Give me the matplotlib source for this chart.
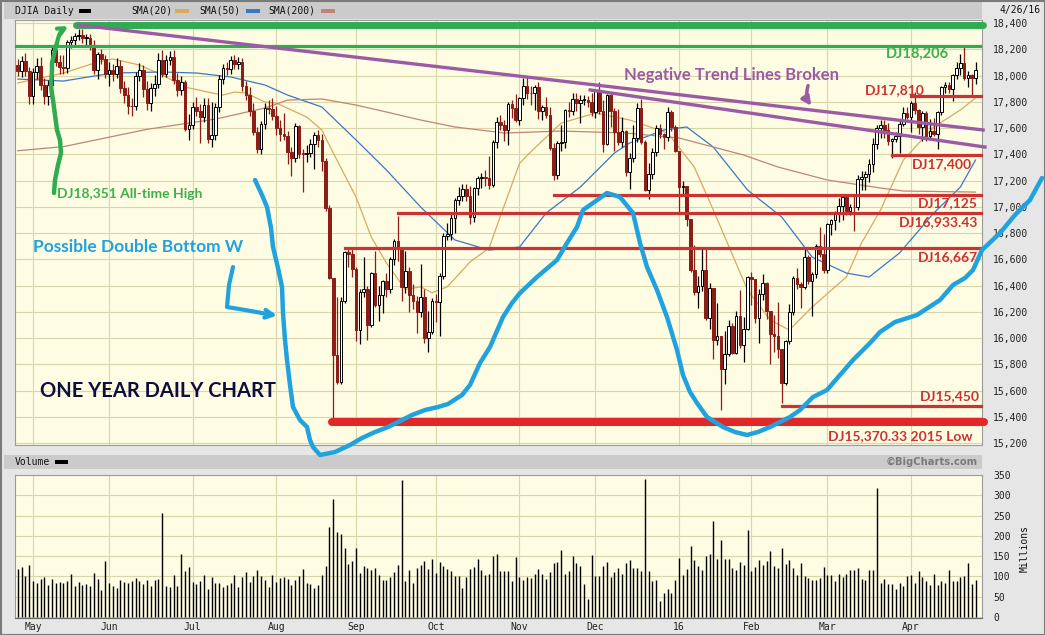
# -*- coding: utf-8 -*-
import numpy as np
import pandas as pd
import matplotlib
matplotlib.use('Agg')
import matplotlib.pyplot as plt
from matplotlib.patches import Rectangle

# ---------------- data ----------------
holidays = ['2015-05-25', '2015-07-03', '2015-09-07', '2015-11-26', '2015-12-25',
            '2016-01-01', '2016-01-18', '2016-02-15', '2016-03-25']
days = pd.bdate_range('2015-04-27', '2016-04-26')
days = days[~days.isin(pd.to_datetime(holidays))]

first_open = 18080
closes = [
    18037, 18110, 18035, 17841,
    18024, 18070, 17928, 17842, 17925, 18191, 18105, 18068, 18060, 18252, 18272, 18298, 18312, 18285, 18285, 18232, 18041, 18163, 18127, 18011,
    18040, 18011, 18076, 17906, 17849, 17767, 17765, 18000, 18039, 17899, 17791, 17904, 17935, 18115, 18015, 18120, 18144, 17967, 17891, 17947, 17596, 17620,
    17758, 17731, 17684, 17776, 17516, 17549, 17760, 17977, 18054, 18051, 18120, 18086, 18100, 17919, 17851, 17732, 17569, 17441, 17631, 17751, 17746, 17690,
    17599, 17551, 17541, 17419, 17373, 17615, 17403, 17402, 17409, 17477, 17546, 17512, 17349, 16991, 16460, 15871, 15666, 16285, 16655, 16643, 16528,
    16058, 16351, 16374, 16102, 16492, 16253, 16330, 16433, 16371, 16599, 16740, 16675, 16385, 16511, 16330, 16280, 16201, 16315, 16001, 16049, 16285,
    16272, 16472, 16777, 16790, 16912, 17050, 17084, 17132, 17082, 16925, 17142, 17216, 17230, 17218, 17169, 17490, 17647, 17623, 17582, 17780, 17756, 17664,
    17829, 17919, 17868, 17864, 17910, 17730, 17758, 17703, 17449, 17245, 17484, 17490, 17738, 17733, 17824, 17792, 17813, 17813, 17798, 17720,
    17888, 17730, 17478, 17848, 17731, 17568, 17493, 17575, 17265, 17368, 17525, 17750, 17495, 17128, 17252, 17418, 17603, 17553, 17528, 17721, 17604, 17425,
    17149, 17159, 16907, 16515, 16347, 16399, 16516, 16151, 16380, 15988, 16016, 15766, 15882, 16094, 15886, 16167, 15944, 16069, 16466,
    16449, 16154, 16337, 16417, 16205, 16027, 16014, 15915, 15660, 15974, 16196, 16454, 16414, 16392, 16620, 16431, 16485, 16698, 16640, 16517,
    16866, 16900, 16944, 17007, 17074, 16965, 17001, 16995, 17214, 17230, 17251, 17326, 17481, 17602, 17624, 17582, 17503, 17516, 17536, 17634, 17717, 17685,
    17793, 17737, 17604, 17716, 17542, 17577, 17557, 17722, 17909, 17927, 17898, 18004, 18054, 18096, 17983, 18004, 17978, 18041,
]
# wick length above / below the candle body, points
wick_up = [
    45, 35, 60, 30,
    30, 60, 70, 50, 40, 30, 60, 50, 90, 20, 30, 25, 39, 45, 30, 30, 40, 20, 40, 30,
    60, 50, 60, 40, 50, 60, 60, 30, 60, 40, 60, 40, 70, 60, 80, 40, 40, 50, 50, 50, 20, 90,
    40, 80, 50, 50, 50, 250, 30, 30, 30, 50, 30, 40, 40, 30, 40, 60, 60, 40, 20, 40, 60, 80,
    80, 60, 160, 40, 40, 20, 10, 40, 60, 40, 20, 40, 40, 20, 20, 0, 441, 27, 11, 40, 40,
    10, 20, 240, 20, 10, 172, 70, 10, 60, 20, 15, 193, 20, 150, 30, 80, 40, 250, 60, 160, 20,
    50, 20, 20, 90, 40, 20, 70, 40, 40, 80, 10, 20, 30, 50, 170, 20, 40, 50, 40, 20, 30, 100,
    10, 60, 70, 50, 20, 40, 20, 80, 60, 40, 20, 130, 10, 60, 40, 40, 40, 40, 30, 70,
    10, 60, 80, 10, 20, 20, 180, 110, 10, 40, 100, 40, 70, 10, 80, 30, 20, 30, 10, 40, 20, 20,
    0, 40, 0, 0, 190, 70, 170, 170, 40, 0, 250, 0, 170, 40, 20, 40, 200, 90, 10,
    40, 0, 40, 70, 10, 0, 150, 260, 0, 10, 60, 20, 80, 10, 60, 10, 20, 20, 150, 150,
    10, 10, 20, 60, 20, 20, 20, 100, 30, 40, 20, 40, 40, 20, 40, 40, 60, 10, 30, 20, 40, 40,
    10, 80, 10, 10, 10, 90, 100, 10, 10, 20, 20, 10, 50, 71, 120, 30, 10, 60,
]
wick_down = [
    40, 50, 40, 55,
    60, 50, 40, 60, 70, 40, 30, 60, 50, 40, 40, 50, 30, 40, 50, 40, 30, 70, 40, 30,
    90, 50, 30, 40, 60, 60, 70, 30, 40, 60, 50, 60, 60, 30, 30, 30, 40, 30, 50, 40, 20, 90,
    30, 40, 200, 40, 30, 60, 40, 40, 40, 50, 40, 40, 40, 40, 40, 40, 20, 30, 40, 40, 40, 30,
    50, 50, 30, 90, 140, 30, 30, 287, 60, 30, 190, 60, 80, 20, 10, 501, 15, 15, 15, 100, 60,
    78, 100, 40, 120, 20, 20, 120, 140, 60, 30, 40, 90, 100, 40, 130, 60, 160, 40, 40, 107, 20,
    150, 259, 20, 30, 40, 110, 40, 40, 40, 60, 40, 50, 70, 60, 30, 20, 40, 40, 80, 110, 80, 20,
    40, 50, 50, 90, 130, 60, 70, 30, 20, 40, 35, 60, 40, 50, 30, 60, 150, 40, 40, 30,
    40, 20, 60, 10, 120, 140, 20, 40, 30, 126, 30, 30, 20, 10, 70, 40, 30, 30, 90, 30, 30, 10,
    190, 60, 50, 10, 20, 120, 40, 10, 80, 146, 40, 315, 120, 20, 10, 10, 20, 130, 10,
    200, 40, 194, 50, 60, 224, 120, 70, 157, 20, 20, 20, 40, 160, 20, 20, 266, 30, 20, 20,
    20, 80, 80, 60, 110, 30, 30, 180, 20, 90, 100, 60, 60, 40, 80, 60, 30, 130, 20, 130, 20, 20,
    118, 30, 50, 100, 40, 20, 20, 120, 20, 40, 30, 90, 30, 50, 20, 70, 136, 40,
]
volume = [
    118, 123, 101, 128, 89, 83, 93, 99, 79, 93, 85, 86, 85, 90, 106, 76, 87, 79, 81, 76,
    108, 94, 67, 138, 84, 76, 71, 91, 87, 85, 90, 96, 89, 81, 91, 76, 91, 94, 256, 76,
    74, 104, 76, 155, 113, 123, 86, 81, 89, 104, 69, 99, 84, 84, 74, 79, 84, 104, 74, 99,
    111, 86, 101, 116, 101, 91, 74, 104, 86, 96, 99, 94, 79, 91, 101, 118, 85, 81, 71, 79,
    104, 126, 222, 291, 210, 205, 170, 131, 138, 170, 108, 126, 121, 116, 121, 104, 91, 91, 99, 110,
    128, 338, 89, 116, 84, 121, 128, 138, 118, 143, 108, 136, 126, 118, 113, 101, 101, 71, 99, 118,
    123, 143, 116, 104, 106, 150, 155, 113, 113, 113, 89, 148,
    99, 91, 99, 96, 106, 118, 106, 94, 111, 133, 136, 165, 106, 113, 150, 133, 126, 81, 44, 153,
    101, 101, 126, 136, 99, 111, 121, 106, 133, 140, 121, 121, 113, 340, 113, 89, 91, 39, 59, 69, 59, 91,
    145, 104, 118, 175, 140, 126, 116, 150, 155, 237, 143, 190, 143, 143, 121, 116, 136, 128, 214,
    113, 123, 140, 128, 138, 162, 126, 121, 170, 131, 140, 121, 104, 133, 101, 96, 91, 91, 96, 123,
    104, 104, 89, 106, 99, 106, 116, 116, 121, 94, 91, 116, 116, 318, 84, 94, 81, 81, 69, 84, 76, 101,
    104, 84, 113, 99, 89, 79, 106, 79, 89, 84, 116, 89, 89, 99, 101, 133, 81, 91,
]

# moving averages (trading-day number, value)
sma20_day = [0, 12, 21, 25, 32, 38, 44, 50, 54, 57, 60, 65, 68, 76, 80, 83, 89, 93, 97, 102, 106, 109, 113, 119, 124,
             127, 132, 135, 143, 152, 161, 171, 178, 183, 192, 198, 203, 209, 218, 222, 227, 233, 241, 248, 252]
sma20_val = [17943, 18019, 18103, 18126, 18080, 18004, 17912, 17874, 17851, 17874, 17867, 17798, 17790, 17684, 17585,
             17410, 17074, 16770, 16571, 16370, 16390, 16345, 16390, 16580, 16685, 16930, 17330, 17420, 17638, 17714,
             17661, 17562, 17303, 16975, 16366, 16137, 16061, 16236, 16465, 16724, 16975, 17356, 17608, 17737, 17829]
sma50_day = [0, 12, 25, 38, 47, 56, 65, 71, 80, 89, 97, 106, 115, 124, 132, 139, 148, 157, 161, 170, 176, 183, 192,
             201, 209, 218, 224, 232, 241, 248, 252]
sma50_val = [17973, 17958, 18019, 18027, 18019, 17989, 17928, 17851, 17760, 17509, 17280, 16998, 16747, 16670, 16693,
             16952, 17150, 17410, 17486, 17585, 17608, 17455, 17128, 16922, 16617, 16495, 16465, 16648, 16952, 17150, 17356]
sma200_day = [0, 12, 34, 52, 60, 65, 71, 80, 89, 97, 106, 115, 128, 143, 160, 174, 183, 191, 200, 213, 227, 233, 252]
sma200_val = [17427, 17458, 17590, 17668, 17720, 17752, 17813, 17821, 17775, 17722, 17661, 17608, 17562, 17577, 17562,
              17524, 17455, 17394, 17303, 17204, 17143, 17120, 17112]

month_names = ['May', 'Jun', 'Jul', 'Aug', 'Sep', 'Oct', 'Nov', 'Dec', '16', 'Feb', 'Mar', 'Apr']

# support / resistance levels drawn on the chart
level_text = ['DJ17,810', 'DJ17,400', 'DJ17,125', 'DJ16,933.43', 'DJ16,667', 'DJ15,450']
level_value = [17844, 17394, 17090, 16952, 16686, 15482]
level_from = ['2016-04-01', '2016-03-24', '2015-11-13', '2015-09-17', '2015-08-27', '2016-02-11']
low_2015 = 15360
high_line = 18385
green_line = 18225

W, H = 1045, 635
RED = '#cd3232'
DOWN = '#8c1c16'
GREEN = '#2fab50'
PURPLE = '#9a5ba4'
BLUE = '#20a2df'
GRID = '#d9d6ab'
MONO = 'DejaVu Sans Mono'
HAND = 'Lato'


def day(s):
    return days.get_loc(pd.Timestamp(s))


def box(x0, y0, x1, y1):
    return [x0 / W, 1 - y1 / H, (x1 - x0) / W, (y1 - y0) / H]


n = len(closes)
idx = np.arange(n)
c = np.array(closes, float)
o = np.r_[first_open, c[:-1]]
hi = np.maximum(o, c) + np.array(wick_up)
lo = np.minimum(o, c) - np.array(wick_down)
up = c >= o
month_first = [i for i in range(1, n) if days[i].month != days[i - 1].month]

fig = plt.figure(figsize=(W / 100, H / 100), dpi=100, facecolor='#e6e6e6')
ax = fig.add_axes(box(15, 20, 982, 445))
axv = fig.add_axes(box(15, 475, 982, 618))
x_lim = (-0.74, 253.7)

# ---- price panel
ax.set_facecolor('#fefce3')
ax.vlines(idx, lo, hi, colors=np.where(up, 'black', DOWN), lw=0.9, zorder=3)
ax.bar(idx, np.maximum(np.abs(c - o), 6), bottom=np.minimum(o, c), width=0.7,
       color=np.where(up, 'white', DOWN), edgecolor=np.where(up, 'black', DOWN), linewidth=0.7, zorder=4)
ax.plot(sma20_day, sma20_val, color='#d7aa60', lw=0.9, zorder=2)
ax.plot(sma50_day, sma50_val, color='#3a78c6', lw=0.9, zorder=2)
ax.plot(sma200_day, sma200_val, color='#c08478', lw=0.9, zorder=2)
ax.set_xlim(*x_lim)
ax.set_ylim(15185, 18423)
ax.set_yticks(range(15200, 18401, 200))
ax.set_yticklabels(['{:,}'.format(v) for v in range(15200, 18401, 200)], fontfamily=MONO, fontsize=7)
ax.set_xticks(month_first)
ax.grid(color=GRID, lw=0.8)
ax.set_axisbelow(True)
ax.tick_params(axis='y', left=False, right=True, labelleft=False, labelright=True, length=0, pad=8, colors='#222222')
ax.tick_params(axis='x', length=0, labelbottom=False)
for s in ax.spines.values():
    s.set_color('#9a9a9a')

# levels
ax.plot([day('2015-05-19') - 0.6, 253.9], [high_line, high_line], color=GREEN, lw=5, solid_capstyle='round',
        clip_on=False, zorder=6)
ax.plot(x_lim, [green_line, green_line], color=GREEN, lw=2.3, zorder=6)
for v, d in zip(level_value, level_from):
    ax.plot([day(d), 253.5], [v, v], color=RED, lw=2.3, clip_on=False, zorder=6)
ax.plot([day('2015-08-24') - 0.3, 254.2], [low_2015, low_2015], color='#e02828', lw=5.8,
        solid_capstyle='round', clip_on=False, zorder=6)
ax.plot([16, 254], [18385, 17585], color=PURPLE, lw=2.4, clip_on=False, zorder=6)
ax.plot([150.6, 254.5], [17890, 17455], color=PURPLE, lw=2.4, clip_on=False, zorder=6)

# ---- volume panel
axv.set_facecolor('#fefce3')
axv.vlines(idx, 0, volume, color='black', lw=1.0, zorder=3)
axv.set_xlim(*x_lim)
axv.set_ylim(-2.5, 350.5)
axv.set_yticks(range(0, 351, 50))
axv.set_yticklabels([str(v) for v in range(0, 351, 50)], fontfamily=MONO, fontsize=7)
axv.set_xticks(month_first)
axv.set_xticklabels(month_names, fontfamily=MONO, fontsize=7)
axv.grid(color=GRID, lw=0.8)
axv.set_axisbelow(True)
axv.tick_params(axis='y', left=False, right=True, labelleft=False, labelright=True, length=0, pad=8, colors='#222222')
axv.tick_params(axis='x', length=0, pad=3, colors='#222222')
for s in axv.spines.values():
    s.set_color('#9a9a9a')
axv.spines['bottom'].set_color('#666666')

# ---- overlay in pixel coordinates (headers + hand drawn notes)
ov = fig.add_axes([0, 0, 1, 1])
ov.set_xlim(0, W)
ov.set_ylim(H, 0)
ov.axis('off')
ov.patch.set_visible(False)

ov.add_patch(Rectangle((4, 2), 978, 17, facecolor='#cbcbcb', edgecolor='none'))
ov.add_patch(Rectangle((4, 455), 978, 14, facecolor='#cbcbcb', edgecolor='none'))
ov.add_patch(Rectangle((0.5, 0.5), W - 1, H - 1, fill=False, edgecolor='#7a7a7a', lw=1.5))

ov.text(15, 10.5, 'DJIA Daily', fontfamily=MONO, fontsize=7, va='center', color='#111111')
ov.add_patch(Rectangle((79, 8.5), 12, 4, facecolor='black'))
legend_items = [('SMA(20)', '#d7aa60', 131, 175), ('SMA(50)', '#3a78c6', 199, 246), ('SMA(200)', '#c08478', 268, 321)]
for name, col, tx, sx in legend_items:
    ov.text(tx, 10.5, name, fontfamily=MONO, fontsize=7, va='center', color='#111111')
    ov.add_patch(Rectangle((sx, 8.5), 14, 4, facecolor=col))
ov.text(1041, 9.5, '4/26/16', fontfamily=MONO, fontsize=7, va='center', ha='right', color='#111111')
ov.text(15, 462, 'Volume', fontfamily=MONO, fontsize=7, va='center', color='#111111')
ov.add_patch(Rectangle((55, 460), 13, 4, facecolor='black'))
ov.text(978, 462, '\u00a9BigCharts.com', fontfamily='DejaVu Sans', fontweight='bold', fontsize=7.2,
        va='center', ha='right', color='#7a7a7a')
ov.text(1025, 548, 'Millions', fontfamily=MONO, fontsize=7, rotation=90, va='center', ha='center', color='#111111')

# hand drawn notes
w_x = [255, 262, 267, 271, 273, 278, 282, 283, 285, 287, 290, 293, 300, 307, 310, 313, 320, 335, 350, 362, 375,
       388, 400, 412, 425, 438, 448, 462, 470, 480, 490, 503, 512, 520, 537, 557, 567, 577, 583, 593, 607, 620,
       633, 640, 647, 657, 667, 677, 683, 690, 697, 707, 723, 735, 747, 758, 770, 790, 800, 813, 827, 840, 853,
       860, 870, 880, 895, 917, 940, 953, 965, 973, 982, 1000, 1015, 1030, 1042]
w_y = [180, 195, 207, 228, 247, 268, 287, 313, 340, 360, 385, 407, 420, 427, 440, 447, 455, 452, 445, 438, 432,
       427, 421, 415, 410, 407, 404, 395, 385, 363, 347, 317, 303, 293, 277, 260, 243, 227, 210, 203, 193, 197,
       213, 243, 267, 290, 317, 350, 375, 392, 403, 417, 427, 432, 435, 432, 427, 417, 410, 397, 390, 375, 360,
       353, 343, 332, 322, 315, 300, 285, 278, 270, 250, 233, 215, 200, 178]
ov.plot(w_x, w_y, color=BLUE, lw=3.2, solid_capstyle='round', solid_joinstyle='round')
ov.plot([233, 229, 227, 245, 262], [267, 285, 307, 310, 313], color=BLUE, lw=3, solid_capstyle='round')
ov.annotate('', xy=(280, 316), xytext=(260, 313),
            arrowprops=dict(arrowstyle='->', color=BLUE, lw=3, mutation_scale=14))

g_x = [54, 55, 58, 61, 60, 57, 55, 53, 51, 52, 52, 55, 57]
g_y = [193, 180, 165, 153, 140, 130, 115, 100, 87, 70, 63, 50, 43]
ov.plot(g_x, g_y, color=GREEN, lw=3.2, solid_capstyle='round')
ov.annotate('', xy=(71, 25), xytext=(57, 44),
            arrowprops=dict(arrowstyle='->', color=GREEN, lw=3, mutation_scale=12,
                            connectionstyle='arc3,rad=-0.3'))
ov.annotate('', xy=(813, 108), xytext=(809, 83),
            arrowprops=dict(arrowstyle='-|>', color=PURPLE, lw=2.5, mutation_scale=13,
                            connectionstyle='arc3,rad=0.3'))

# notes: (text, x, baseline y)
ov.text(57, 198, 'DJ18,351 All-time High', fontfamily=HAND, fontweight='bold', fontsize=10,
        color='#3daf4b', va='baseline')
ov.text(33, 252, 'Possible Double Bottom W', fontfamily=HAND, fontweight='bold', fontsize=12.5,
        color=BLUE, va='baseline')
ov.text(40, 397, 'ONE YEAR DAILY CHART', fontfamily=HAND, fontweight='bold', fontsize=14.5,
        color='#0e0e3c', va='baseline')
ov.text(624, 80, 'Negative Trend Lines Broken', fontfamily=HAND, fontweight='bold', fontsize=12,
        color=PURPLE, va='baseline')
ov.text(886, 58, 'DJ18,206', fontfamily=HAND, fontweight='bold', fontsize=10.5, color='#3daf4b', va='baseline')

label_pos = [(925, 94), (972, 168), (978, 207), (978, 226), (978, 261), (980, 400)]
for t, (tx, ty) in zip(level_text, label_pos):
    ov.text(tx, ty, t, fontfamily=HAND, fontweight='bold', fontsize=10, color=RED, va='baseline', ha='right')
ov.text(973, 440, 'DJ15,370.33 2015 Low', fontfamily=HAND, fontweight='bold', fontsize=10,
        color=RED, va='baseline', ha='right')

fig.savefig('out.png', dpi=100, facecolor=fig.get_facecolor())
